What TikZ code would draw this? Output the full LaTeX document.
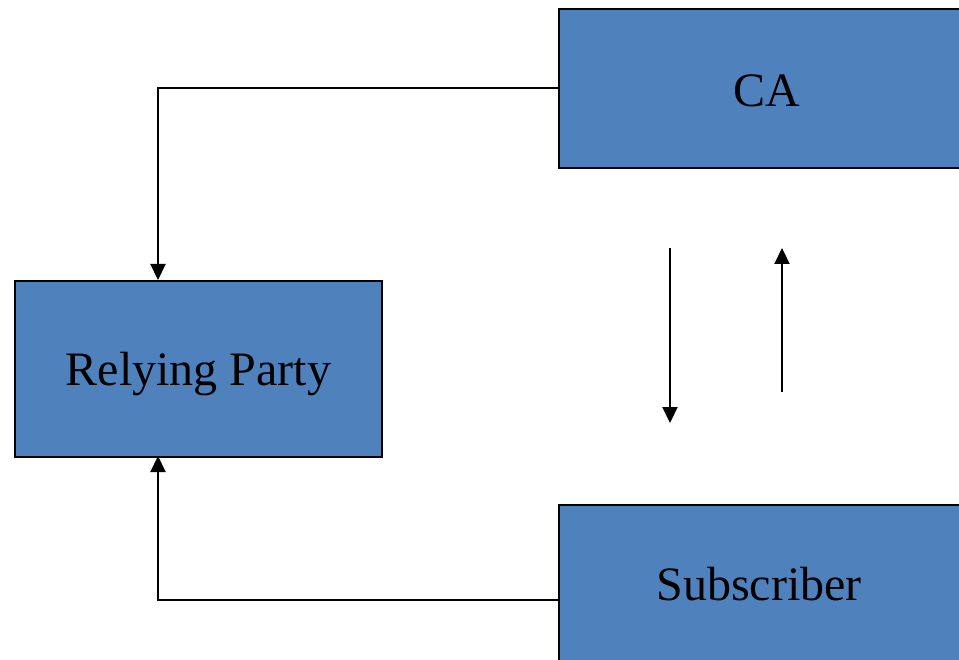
\documentclass[tikz,border=0pt]{standalone}
\usepackage{fontspec}
\setmainfont{Liberation Serif}
\usetikzlibrary{arrows.meta}
\definecolor{boxblue}{HTML}{4F81BD}
\begin{document}
\begin{tikzpicture}[x=1pt,y=-1pt,
  entity/.style={draw=black,line width=2pt,fill=boxblue,rectangle,anchor=north west,
    inner sep=0pt,font=\fontsize{48}{58}\selectfont,text=black},
  arr/.style={line width=2.2pt,-{Triangle[width=15pt,length=16pt]}}]
\useasboundingbox (0,0) rectangle (959,660);
\clip (0,0) rectangle (959,660);
\node[entity,minimum width=416pt,minimum height=159pt] (ca) at (558,8) {\raisebox{-2pt}[\height][\depth]{CA}};
\node[entity,minimum width=367pt,minimum height=176pt] (rp) at (14,280) {\raisebox{-5pt}[\height][\depth]{Relying Party}};
\node[entity,minimum width=416pt,minimum height=159pt] (sub) at (558,504) {Subscriber\hspace*{16pt}};
\coordinate (caout) at (558,88);
\coordinate (subout) at (558,600);
\coordinate (rpin) at (158,280);
\coordinate (rpin2) at (158,456);
\draw[arr] (caout) -| (rpin);
\draw[arr] (subout) -| (rpin2);
\coordinate (d1) at (670,248);
\coordinate (d2) at (670,423);
\coordinate (u1) at (782,392);
\coordinate (u2) at (782,248);
\draw[arr] (d1) -- (d2);
\draw[arr] (u1) -- (u2);
\end{tikzpicture}
\end{document}
